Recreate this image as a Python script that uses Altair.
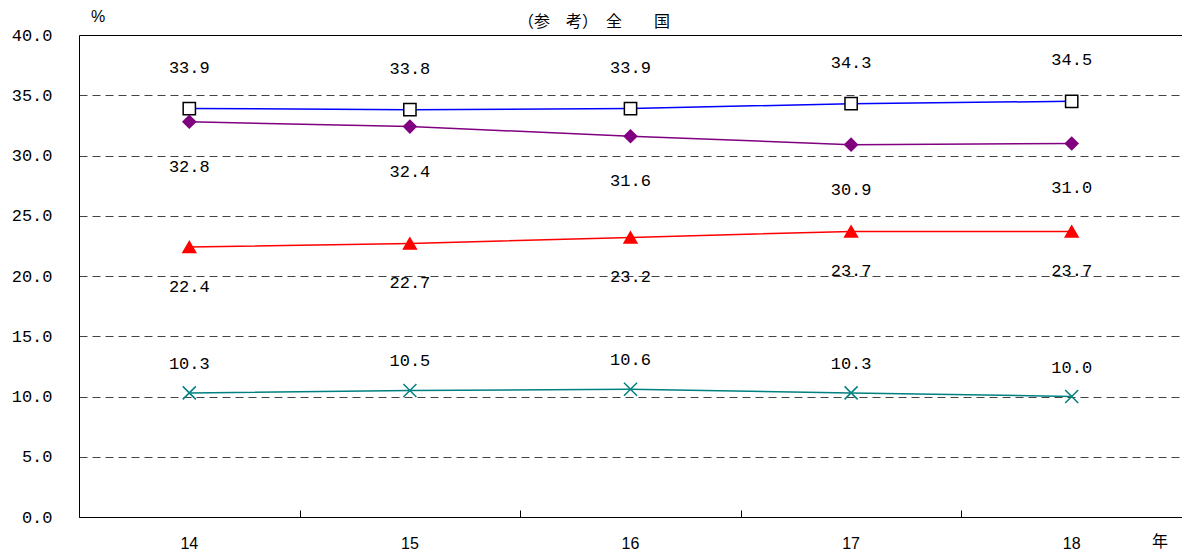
import altair as alt
import pandas as pd

years = ["14", "15", "16", "17", "18"]
series_names = ["s1", "s2", "s3", "s4"]
s1_values = [33.9, 33.8, 33.9, 34.3, 34.5]
s2_values = [32.8, 32.4, 31.6, 30.9, 31.0]
s3_values = [22.4, 22.7, 23.2, 23.7, 23.7]
s4_values = [10.3, 10.5, 10.6, 10.3, 10.0]
y_ticks = [0, 5, 10, 15, 20, 25, 30, 35, 40]
title_text = "（参　考）　全　　国"
unit_text = "%"
x_unit_text = "年"

rows = []
for name, vals in zip(series_names, [s1_values, s2_values, s3_values, s4_values]):
    for yr, v in zip(years, vals):
        rows.append({"year": yr, "series": name, "value": v})
df = pd.DataFrame(rows)

line_colors = ["#0000FF", "#800080", "#FF0000", "#008080"]
marker_shapes = ["square", "diamond", "triangle-up", "M-1,-1L1,1M1,-1L-1,1"]
marker_fills = ["white", "#800080", "#FF0000", "transparent"]
marker_strokes = ["black", "#800080", "#FF0000", "#008080"]
marker_sizes = [150, 170, 225, 190]
label_dy = [-41, 45, 40, -29]

W, H = 1103, 482

xscale = alt.Scale(type="band", domain=years, paddingInner=0, paddingOuter=0)
yscale = alt.Scale(domain=[0, 40], nice=False, zero=True)

y_axis = alt.Axis(
    values=y_ticks, format=".1f", title=None,
    domain=True, domainColor="black", domainWidth=1,
    ticks=False, tickSize=0, labelPadding=27,
    labelFont="Liberation Mono", labelFontSize=17, labelColor="black",
    grid=True,
    gridColor={"condition": {"test": "datum.value === 40", "value": "black"}, "value": "#444444"},
    gridDash={"condition": {"test": "datum.value === 40", "value": []}, "value": [8, 5]},
    gridWidth=1,
)

x_axis_main = alt.Axis(
    orient="bottom", title=None, domain=True, domainColor="black", domainWidth=1,
    ticks=False, tickSize=0, labelPadding=18, labelAngle=0,
    labelFont="Liberation Sans", labelFontSize=16, labelColor="black",
    grid=False,
)

x_axis_ticks = alt.Axis(
    orient="bottom", title=None, domain=False, labels=False, grid=False,
    ticks=True, tickSize=7, tickBand="extent", tickColor="black", tickWidth=1,
    offset=-7,
)

color_scale = alt.Scale(domain=series_names, range=line_colors)

lines = alt.Chart(df).mark_line(strokeWidth=1.5).encode(
    x=alt.X("year:N", scale=xscale, axis=x_axis_main, sort=years),
    y=alt.Y("value:Q", scale=yscale, axis=y_axis),
    color=alt.Color("series:N", scale=color_scale, legend=None),
    detail="series:N",
)

points = alt.Chart(df).mark_point(filled=False, strokeWidth=1.5, opacity=1).encode(
    x=alt.X("year:N", scale=xscale, axis=x_axis_ticks, sort=years),
    y=alt.Y("value:Q", scale=yscale, axis=y_axis),
    shape=alt.Shape("series:N", scale=alt.Scale(domain=series_names, range=marker_shapes), legend=None),
    fill=alt.Fill("series:N", scale=alt.Scale(domain=series_names, range=marker_fills), legend=None),
    stroke=alt.Stroke("series:N", scale=alt.Scale(domain=series_names, range=marker_strokes), legend=None),
    size=alt.Size("series:N", scale=alt.Scale(domain=series_names, range=marker_sizes), legend=None),
)

label_layers = []
for name, dy in zip(series_names, label_dy):
    label_layers.append(
        alt.Chart(df).transform_filter(alt.datum.series == name).mark_text(
            font="Liberation Mono", fontSize=17, color="black", dy=dy, baseline="middle", align="center"
        ).encode(
            x=alt.X("year:N", scale=xscale, axis=None, sort=years),
            y=alt.Y("value:Q", scale=yscale, axis=y_axis),
            text=alt.Text("value:Q", format=".1f"),
        )
    )

title_mark = alt.Chart(pd.DataFrame({"t": [title_text]})).mark_text(
    font="Noto Sans CJK JP", fontSize=16, color="black", align="center", baseline="middle"
).encode(x=alt.value(515), y=alt.value(-13), text="t:N")

unit_mark = alt.Chart(pd.DataFrame({"t": [unit_text]})).mark_text(
    font="Liberation Sans", fontSize=16, color="black", align="center", baseline="middle"
).encode(x=alt.value(19), y=alt.value(-18), text="t:N")

x_unit_mark = alt.Chart(pd.DataFrame({"t": [x_unit_text]})).mark_text(
    font="Noto Sans CJK JP", fontSize=16, color="black", align="center", baseline="middle"
).encode(x=alt.value(1081), y=alt.value(507), text="t:N")

chart = alt.layer(
    lines, points, *label_layers, title_mark, unit_mark, x_unit_mark
).resolve_axis(x="independent").properties(
    width=W, height=H,
    padding={"left": 71, "top": 27, "right": 0, "bottom": 36},
    autosize=alt.AutoSizeParams(type="none"),
).configure_view(stroke=None).configure(background="white")

chart.save("out.html", embed_options={"renderer": "svg", "actions": False})
